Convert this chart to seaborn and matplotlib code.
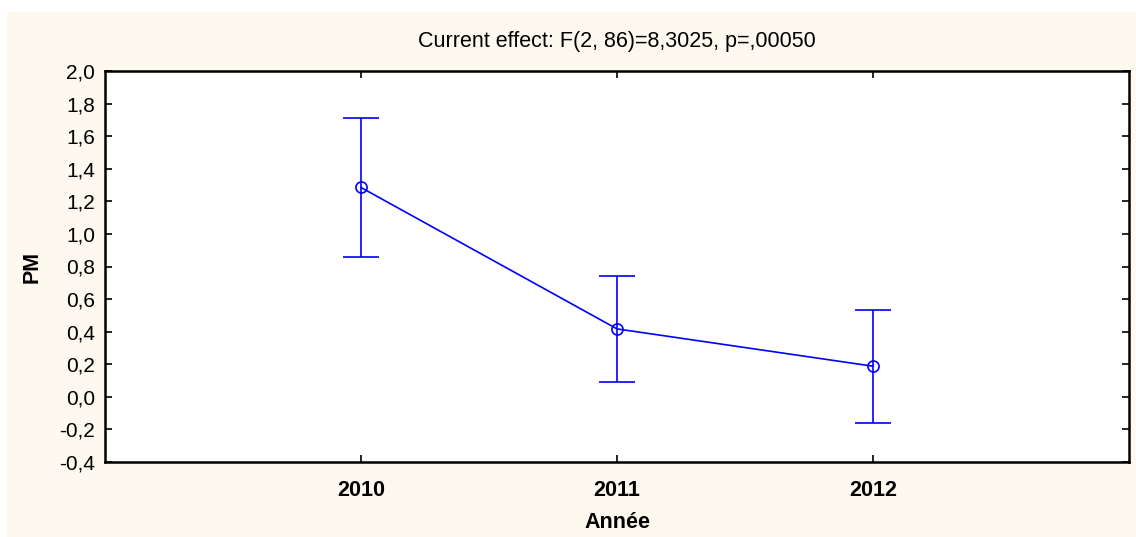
import matplotlib
matplotlib.use("Agg")
import matplotlib.pyplot as plt
from matplotlib.patches import Rectangle
from matplotlib.ticker import FuncFormatter, MultipleLocator
import seaborn as sns
import pandas as pd

# Means and confidence half-widths per year
years = ["2010", "2011", "2012"]
pm_mean = [1.285, 0.417, 0.188]
pm_ci = [0.428, 0.327, 0.347]

title = "Current effect: F(2, 86)=8,3025, p=,00050"

sns.set_theme(style="white")
plt.rcParams["font.family"] = ["Liberation Sans", "DejaVu Sans"]

W, H = 1136, 537
fig = plt.figure(figsize=(W / 100, H / 100), dpi=100, facecolor="white")

# cream panel behind the axes
bg = "#FDF9EE"
fig.patches.append(Rectangle((7 / W, 0), 1 - 7 / W, 1 - 12 / H,
                             transform=fig.transFigure, facecolor=bg,
                             edgecolor="none", zorder=-10))

left, right, top, bottom = 105, 1129, 71, 462
ax = fig.add_axes([left / W, 1 - bottom / H, (right - left) / W, (bottom - top) / H])
ax.set_facecolor("white")

df = pd.DataFrame({"x": range(len(years)), "PM": pm_mean})
blue = "#0000FF"
ax.errorbar(df["x"], df["PM"], yerr=pm_ci, fmt="none", ecolor=blue,
            elinewidth=1.2, capsize=13, capthick=1.2, zorder=2)
sns.lineplot(data=df, x="x", y="PM", ax=ax, color=blue, linewidth=1.2,
             marker="o", markersize=8, markerfacecolor="none",
             markeredgecolor=blue, markeredgewidth=1.2, zorder=3)

ax.set_xlim(-1, 3)
ax.set_ylim(-0.4, 2.0)
ax.yaxis.set_major_locator(MultipleLocator(0.2))
ax.yaxis.set_major_formatter(FuncFormatter(lambda v, p: f"{v:.1f}".replace(".", ",").replace("-0,0", "0,0")))
ax.set_xticks(range(len(years)))
ax.set_xticklabels(years, fontweight="bold", fontsize=15.5)

for s in ax.spines.values():
    s.set_visible(True)
    s.set_color("black")
    s.set_linewidth(1.8)

ax.tick_params(axis="both", direction="in", length=5, width=1.2, color="black",
               top=True, right=True, left=True, bottom=True)
ax.tick_params(axis="y", labelsize=15, pad=7, labelcolor="black")
ax.tick_params(axis="x", pad=13, labelcolor="black")

ax.set_xlabel("Année", fontweight="bold", fontsize=15.5, labelpad=8, color="black")
ax.set_ylabel("PM", fontweight="bold", fontsize=15.5, labelpad=12, color="black")
ax.set_title(title, fontsize=15.5, pad=17, color="black")
ax.grid(False)

fig.savefig("out.png", dpi=100, facecolor="white")
